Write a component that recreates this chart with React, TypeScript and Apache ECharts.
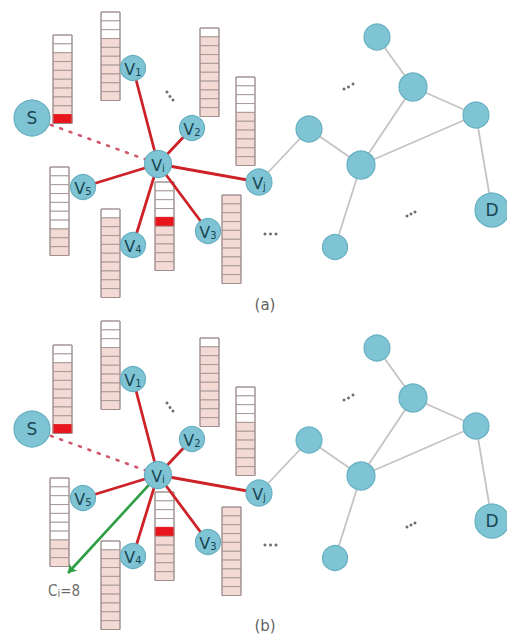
import React, { useEffect, useRef } from "react";
import * as echarts from "echarts";

// ---- Data (diagram coordinates, panel (a); panel (b) is shifted by PANEL_SHIFT) ----
const PANEL_SHIFT = 311;
const nodeNames = ["S", "V1", "V2", "Vi", "Vj", "V5", "V3", "V4", "N1", "N2", "N3", "N4", "N5", "N6", "D"];
const nodeX = [32, 133, 192, 158, 259, 83, 208, 133, 377, 413, 476, 309, 361, 335, 492];
const nodeY = [118, 68, 128, 164, 182, 187, 231, 245, 37, 87, 115, 129, 165, 247, 210];
const nodeR = [18, 12.5, 12.5, 13.5, 13, 12.5, 12.5, 12.5, 13, 14, 13, 13, 14, 12.5, 17];
const nodeMain = ["S", "V", "V", "V", "V", "V", "V", "V", "", "", "", "", "", "", "D"];
const nodeSub = ["", "1", "2", "i", "j", "5", "3", "4", "", "", "", "", "", "", ""];

const redEdges = [["Vi", "V1"], ["Vi", "V2"], ["Vi", "Vj"], ["Vi", "V5"], ["Vi", "V3"], ["Vi", "V4"]];
const grayEdges = [["Vj", "N4"], ["N4", "N5"], ["N5", "N2"], ["N5", "N3"], ["N2", "N3"], ["N1", "N2"], ["N3", "D"], ["N5", "N6"]];
const dottedEdge = ["S", "Vi"];

// buffers: [left x, top y, white cells, red cell index (-1 none)]
const buffersA = [
  [53, 35, 2, 9],
  [101, 12, 3, -1],
  [200, 28, 1, -1],
  [236, 77, 4, -1],
  [50, 167, 7, -1],
  [101, 209, 1, -1],
  [155, 182, 4, 4],
  [222, 195, 0, -1],
];
const buffersB = [
  [53, 345, 2, 9],
  [101, 321, 3, -1],
  [200, 338, 1, -1],
  [236, 387, 4, -1],
  [50, 478, 7, -1],
  [101, 541, 1, -1],
  [155, 492, 4, 4],
  [222, 507, 0, -1],
];
const CELLS = 10;

// ellipsis dots (panel a)
const dotsA = [
  [167, 92], [170, 96.5], [173, 100],
  [344, 89], [348.5, 87], [353, 84],
  [407, 216], [411, 214], [415, 212],
  [265, 234], [270.5, 234], [276, 234],
];

const panelLabels = ["(a)", "(b)"];
const panelLabelPos = [[265, 305], [265, 626]];
const greenArrowEnd = [68, 573];
const ciLabel = "C|i|=8";
const ciLabelPos = [64, 589];

export default function App() {
  const ref = useRef<HTMLDivElement>(null);
  useEffect(() => {
    document.body.style.margin = "0";
    if (!ref.current) return;
    const chart = echarts.init(ref.current, undefined, { renderer: "svg" });
    const idx = (n: string) => nodeNames.indexOf(n);
    const pos = (n: string, p: number) => [nodeX[idx(n)], nodeY[idx(n)] + p * PANEL_SHIFT];

    const nodeData: any[] = [];
    [0, 1].forEach((p) => {
      nodeNames.forEach((n, i) => {
        const main = nodeMain[i];
        const sub = nodeSub[i];
        nodeData.push({
          value: [nodeX[i], nodeY[i] + p * PANEL_SHIFT],
          symbolSize: nodeR[i] * 2,
          label: {
            show: main !== "",
            position: "inside",
            formatter: main === "" ? "" : sub ? `{m|${main}}{s|${sub}}` : `{b|${main}}`,
          },
        });
      });
    });

    const lineData = (pairs: string[][], p: number) =>
      pairs.map(([a, b]) => ({ coords: [pos(a, p), pos(b, p)] }));

    const dots: number[][] = [];
    [0, 1].forEach((p) => dotsA.forEach((d) => dots.push([d[0], d[1] + p * PANEL_SHIFT])));

    const bufData = [...buffersA, ...buffersB];

    const option: any = {
      animation: false,
      backgroundColor: "#ffffff",
      grid: { left: 0, right: 0, top: 0, bottom: 0 },
      xAxis: { type: "value", min: 0, max: 507, show: false },
      yAxis: { type: "value", min: 0, max: 637, inverse: true, show: false },
      series: [
        {
          type: "custom",
          coordinateSystem: "cartesian2d",
          z: 1,
          data: bufData,
          renderItem: (params: any, api: any) => {
            const x = api.value(0);
            const y = api.value(1);
            const white = api.value(2);
            const red = api.value(3);
            const tl = api.coord([x, y]);
            const br = api.coord([x + 19, y + 88.5]);
            const w = br[0] - tl[0];
            const h = (br[1] - tl[1]) / CELLS;
            const children: any[] = [];
            for (let c = 0; c < CELLS; c++) {
              let fill = c < white ? "#ffffff" : "#f3dad5";
              if (c === red) fill = "#e8161c";
              children.push({
                type: "rect",
                shape: { x: tl[0], y: tl[1] + c * h, width: w, height: h },
                style: { fill, stroke: c === red ? "#e8161c" : "#a39494", lineWidth: 0.9 },
              });
            }
            children.push({
              type: "rect",
              shape: { x: tl[0], y: tl[1], width: w, height: h * CELLS },
              style: { fill: "none", stroke: "#a08f8f", lineWidth: 1 },
            });
            return { type: "group", children };
          },
        },
        {
          type: "lines",
          coordinateSystem: "cartesian2d",
          z: 2,
          lineStyle: { color: "#c4c4c4", width: 1.8, opacity: 1 },
          data: [...lineData(grayEdges, 0), ...lineData(grayEdges, 1)],
        },
        {
          type: "lines",
          coordinateSystem: "cartesian2d",
          z: 2,
          lineStyle: { color: "#c93a54", width: 2.6, type: [2, 8], cap: "round", opacity: 0.85 },
          data: [...lineData([dottedEdge], 0), ...lineData([dottedEdge], 1)],
        },
        {
          type: "lines",
          coordinateSystem: "cartesian2d",
          z: 3,
          lineStyle: { color: "#cc2228", width: 2.8, opacity: 1 },
          data: [...lineData(redEdges, 0), ...lineData(redEdges, 1)],
        },
        {
          type: "lines",
          coordinateSystem: "cartesian2d",
          z: 3,
          symbol: ["none", "arrow"],
          symbolSize: 8,
          lineStyle: { color: "#2f9e44", width: 2.6, opacity: 1 },
          data: [{ coords: [pos("Vi", 1), greenArrowEnd] }],
        },
        {
          type: "scatter",
          z: 5,
          symbol: "circle",
          itemStyle: { color: "#7fc4d4", borderColor: "#66b0c1", borderWidth: 1.2, opacity: 1 },
          label: {
            color: "#1c4b57",
            fontFamily: "DejaVu Sans",
            rich: {
              m: { fontSize: 16, color: "#1a4753", fontFamily: "DejaVu Sans", lineHeight: 18, verticalAlign: "bottom" },
              s: { fontSize: 10, color: "#1a4753", fontFamily: "DejaVu Sans", lineHeight: 18, verticalAlign: "bottom" },
              b: { fontSize: 17, color: "#1a4753", fontFamily: "DejaVu Sans" },
            },
          },
          data: nodeData,
        },
        {
          type: "scatter",
          z: 6,
          symbolSize: 3,
          itemStyle: { color: "#4a4a4a" },
          data: dots,
        },
        {
          type: "scatter",
          z: 6,
          symbolSize: 0,
          label: {
            show: true,
            position: "inside",
            color: "#333",
            fontFamily: "DejaVu Sans",
            fontSize: 15,
            formatter: (p: any) => p.name,
            rich: {
              c: { fontSize: 15, color: "#444", fontFamily: "DejaVu Sans Condensed", lineHeight: 18, verticalAlign: "bottom" },
              i: { fontSize: 10, color: "#444", fontFamily: "DejaVu Sans", lineHeight: 18, verticalAlign: "bottom" },
            },
          },
          data: [
            ...panelLabels.map((t, i) => ({ name: t, value: panelLabelPos[i] })),
            {
              name: (() => {
                const parts = ciLabel.split("|");
                return `{c|${parts[0]}}{i|${parts[1]}}{c|${parts[2]}}`;
              })(),
              value: ciLabelPos,
            },
          ],
        },
      ],
    };
    chart.setOption(option);
    return () => chart.dispose();
  }, []);
  return <div ref={ref} style={{ width: 507, height: 637 }} />;
}
